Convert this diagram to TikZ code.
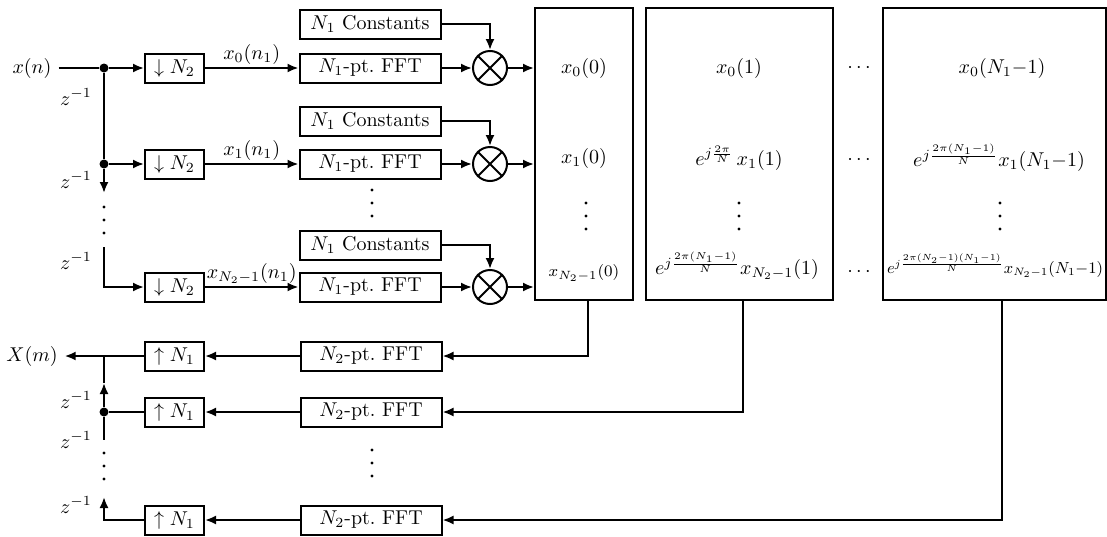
\documentclass[tikz,border=0pt]{standalone}
\usepackage{graphicx}
\usetikzlibrary{arrows.meta}
\tikzset{
  wire/.style={line width=1pt},
  sig/.style={wire, -{Latex[length=5.5pt,width=4.5pt]}},
  blk/.style={draw, line width=1pt, inner sep=0pt, minimum height=14.5pt},
  dn/.style={blk, minimum width=29.5pt},
  fft/.style={blk, minimum width=70.5pt},
  col/.style={draw, line width=1pt, inner sep=0pt, minimum height=146pt},
  mult/.style={draw, circle, line width=1pt, inner sep=0pt, minimum size=17pt},
  jn/.style={circle, fill, inner sep=0pt, minimum size=4.5pt},
}
\begin{document}
\begin{tikzpicture}[x=0.5pt, y=-0.5pt]
  \useasboundingbox (0,0) rectangle (1107,536);
  % result columns
  \node[col, minimum width=49pt] (col0) at (584,154) {};
  \node[col, minimum width=93.5pt] (col1) at (739.5,154) {};
  \node[col, minimum width=111.5pt] (col2) at (994.5,154) {};
  \node (a0) at (584,68) {$x_0(0)$};
  \node (a1) at (584,158) {$x_1(0)$};
  \node (a2) at (584,273) {\footnotesize$x_{N_2-1}(0)$};
  \node (b0) at (739,68) {$x_0(1)$};
  \node (b1) at (739,158) {$e^{j\frac{2\pi}{N}}\,x_1(1)$};
  \node (b2) at (737,266) {$e^{j\frac{2\pi(N_1-1)}{N}}x_{N_2-1}(1)$};
  \node (e0) at (1002,68) {$x_0(N_1{-}1)$};
  \node (e1) at (999,158) {$e^{j\frac{2\pi(N_1-1)}{N}}x_1(N_1{-}1)$};
  \node[inner sep=0pt] (e2) at (995,266) {\resizebox{108pt}{!}{\small$e^{j\frac{2\pi(N_2-1)(N_1-1)}{N}}x_{N_2-1}(N_1{-}1)$}};
  \foreach \y in {68,160,272} \node at (859,\y) {$\cdots$};
  % analysis rows
  \foreach \i/\y/\c/\lab in {0/68/24/{x_0(n_1)}, 1/164/121/{x_1(n_1)}, 2/287/245/{x_{N_2-1}(n_1)}} {
    \node[dn] (d\i) at (174.5,\y) {$\downarrow N_2$};
    \node[fft] (f\i) at (370,\y) {$N_1$-pt.\ FFT};
    \node[fft] (c\i) at (370,\c) {$N_1$ Constants};
    \node[mult] (m\i) at (490,\y) {};
    \draw[wire] (m\i.north west) -- (m\i.south east) (m\i.north east) -- (m\i.south west);
    \draw[sig] (d\i) -- node[above, inner sep=1.5pt] {$\lab$} (f\i);
    \draw[sig] (c\i) -| (m\i);
    \draw[sig] (f\i) -- (m\i);
    \draw[sig] (m\i) -- (m\i -| col0.west);
  }
  % input delay chain
  \node (xn) at (32,68) {$x(n)$};
  \node[jn] (p0) at (104,68) {};
  \node[jn] (p1) at (104,164) {};
  \coordinate (q0) at (104,193);
  \coordinate (q1) at (104,247);
  \draw[wire] (xn) -- (p0);
  \draw[sig] (p0) -- (d0);
  \draw[wire] (p0) -- (p1);
  \draw[sig] (p1) -- (d1);
  \draw[sig] (p1) -- (q0);
  \draw[sig] (q1) |- (d2);
  % synthesis rows
  \foreach \i/\y in {0/356, 1/412, 2/520} {
    \node[dn] (u\i) at (174.5,\y) {$\uparrow N_1$};
    \node[fft] (g\i) at (371,\y) {$N_2$-pt.\ FFT};
    \draw[sig] (g\i) -- (u\i);
  }
  \draw[sig] ([xshift=2pt]col0.south) |- (g0);
  \draw[sig] ([xshift=1.75pt]col1.south) |- (g1);
  \draw[sig] ([xshift=3.5pt]col2.south) |- (g2);
  % output delay chain
  \node (Xm) at (32,356) {$X(m)$};
  \coordinate (r0) at (104,356);
  \node[jn] (r1) at (104,412) {};
  \coordinate (s0) at (104,383);
  \coordinate (s1) at (104,440);
  \coordinate (s2) at (104,497);
  \draw[sig] (u0) -- (Xm);
  \draw[wire] (u1) -- (r1);
  \draw[sig] (r1) -- (s0);
  \draw[wire] (s0) -- (r0);
  \draw[wire] (r1) -- (s1);
  \draw[sig] (u2) -| (s2);
  \foreach \y [count=\k] in {97,180,261,400,440,505}
    \node (z\k) at (76,\y) {$z^{-1}$};
  % vertical dots
  \foreach \x/\y in {104/207, 372/190, 586/203, 739/203, 1000/203, 104/453, 372/450}
    \foreach \k in {0,1,2}
      \fill (\x,\y+13*\k) circle (0.8pt);
\end{tikzpicture}
\end{document}
